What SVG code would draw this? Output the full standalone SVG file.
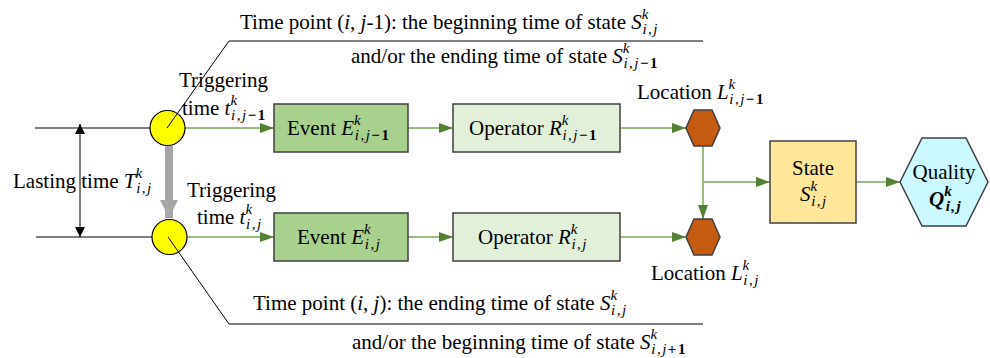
<svg xmlns="http://www.w3.org/2000/svg" width="990" height="358" viewBox="0 0 990 358">
<style>
.m{font-style:italic}
.sp{font-size:15px;font-style:italic}
.sb{font-size:15px;font-style:italic;letter-spacing:1.5px}
.n{font-style:normal;font-weight:bold}
.bx{stroke:#404040;stroke-width:1.5}
.g{stroke:#78a858;stroke-width:1.5;fill:none}
.k{stroke:#000;stroke-width:1;fill:none}
</style>
<defs>
<marker id="ga" viewBox="0 0 14 10" refX="14" refY="5" markerWidth="14" markerHeight="10" markerUnits="userSpaceOnUse" orient="auto"><path d="M0,0 L14,5 L0,10 Z" fill="#548235"/></marker>
<marker id="ka" viewBox="0 0 10 10" refX="10" refY="5" markerWidth="10" markerHeight="10" markerUnits="userSpaceOnUse" orient="auto"><path d="M0,0 L10,5 L0,10 Z" fill="#000"/></marker>
<marker id="gr" viewBox="0 0 18 18" refX="18" refY="9" markerWidth="18" markerHeight="18" markerUnits="userSpaceOnUse" orient="auto"><path d="M0,0 L18,9 L0,18 Z" fill="#a6a6a6"/></marker>
</defs>

<g id="connectors">
<line class="k" x1="35" y1="128" x2="167" y2="128"/>
<line class="k" x1="36" y1="237" x2="169" y2="237"/>
<line class="k" x1="80" y1="180" x2="80" y2="124" marker-end="url(#ka)"/>
<line class="k" x1="80" y1="180" x2="80" y2="237" marker-end="url(#ka)"/>
<line x1="169" y1="146" x2="169" y2="218" stroke="#a6a6a6" stroke-width="8" marker-end="url(#gr)"/>
<line class="g" x1="185" y1="128" x2="274" y2="128" marker-end="url(#ga)"/>
<line class="g" x1="187" y1="237" x2="274" y2="237" marker-end="url(#ga)"/>
<line class="g" x1="408" y1="128" x2="453" y2="128" marker-end="url(#ga)"/>
<line class="g" x1="408" y1="237" x2="453" y2="237" marker-end="url(#ga)"/>
<line class="g" x1="620" y1="128" x2="686" y2="128" marker-end="url(#ga)"/>
<line class="g" x1="620" y1="237" x2="686" y2="237" marker-end="url(#ga)"/>
<line class="g" x1="703" y1="146" x2="703" y2="219" marker-end="url(#ga)"/>
<line class="g" x1="703" y1="182" x2="770" y2="182" marker-end="url(#ga)"/>
<line class="g" x1="856" y1="182" x2="900" y2="182" marker-end="url(#ga)"/>
</g>

<g id="trigger-top">
<circle cx="167.5" cy="128" r="17.5" fill="#ffff00" stroke="#000" stroke-width="1.2"/>
<polyline class="k" points="167,128 229,41 703,41"/>
</g>
<g id="trigger-bottom">
<circle cx="169.5" cy="237" r="17.5" fill="#ffff00" stroke="#000" stroke-width="1.2"/>
<polyline class="k" points="168,237 229,324 703,324"/>
</g>

<g id="labels-time">
<text font-family="'Liberation Serif', serif" font-size="21" x="240" y="29">Time point (<tspan class="m">i</tspan>, <tspan class="m">j</tspan>-1): the beginning time of state <tspan class="m">S</tspan><tspan class="sp" dy="-10">k</tspan><tspan class="sb" dx="-6" dy="15">i,j</tspan></text>
<text font-family="'Liberation Serif', serif" font-size="21" x="351" y="63">and/or the ending time of state <tspan class="m">S</tspan><tspan class="sp" dy="-10">k</tspan><tspan class="sb" dx="-6" dy="15">i,j<tspan class="n">−1</tspan></tspan></text>
<text font-family="'Liberation Serif', serif" font-size="21" x="253" y="310">Time point (<tspan class="m">i</tspan>, <tspan class="m">j</tspan>): the ending time of state <tspan class="m">S</tspan><tspan class="sp" dy="-10">k</tspan><tspan class="sb" dx="-6" dy="15">i,j</tspan></text>
<text font-family="'Liberation Serif', serif" font-size="21" x="352" y="349">and/or the beginning time of state <tspan class="m">S</tspan><tspan class="sp" dy="-10">k</tspan><tspan class="sb" dx="-6" dy="15">i,j<tspan class="n">+1</tspan></tspan></text>
<text font-family="'Liberation Serif', serif" font-size="21" x="13" y="188">Lasting time <tspan class="m">T</tspan><tspan class="sp" dy="-10">k</tspan><tspan class="sb" dx="-6" dy="15">i,j</tspan></text>
<text font-family="'Liberation Serif', serif" font-size="21" x="179" y="87">Triggering</text>
<text font-family="'Liberation Serif', serif" font-size="21" x="182" y="115">time <tspan class="m">t</tspan><tspan class="sp" dy="-10">k</tspan><tspan class="sb" dx="-6" dy="15">i,j<tspan class="n">−1</tspan></tspan></text>
<text font-family="'Liberation Serif', serif" font-size="21" x="187" y="197">Triggering</text>
<text font-family="'Liberation Serif', serif" font-size="21" x="197" y="224">time <tspan class="m">t</tspan><tspan class="sp" dy="-10">k</tspan><tspan class="sb" dx="-6" dy="15">i,j</tspan></text>
</g>

<g id="event-top">
<rect class="bx" x="274" y="104" width="134" height="48" fill="#a9d18e"/>
<text font-family="'Liberation Serif', serif" font-size="21" x="287" y="135">Event <tspan class="m">E</tspan><tspan class="sp" dy="-10">k</tspan><tspan class="sb" dx="-6" dy="15">i,j<tspan class="n">−1</tspan></tspan></text>
</g>
<g id="operator-top">
<rect class="bx" x="453" y="104" width="167" height="48" fill="#e2f0d9"/>
<text font-family="'Liberation Serif', serif" font-size="21" x="469" y="135">Operator <tspan class="m">R</tspan><tspan class="sp" dy="-10">k</tspan><tspan class="sb" dx="-6" dy="15">i,j<tspan class="n">−1</tspan></tspan></text>
</g>
<g id="event-bottom">
<rect class="bx" x="274" y="213" width="134" height="48" fill="#a9d18e"/>
<text font-family="'Liberation Serif', serif" font-size="21" x="297" y="244">Event <tspan class="m">E</tspan><tspan class="sp" dy="-10">k</tspan><tspan class="sb" dx="-6" dy="15">i,j</tspan></text>
</g>
<g id="operator-bottom">
<rect class="bx" x="453" y="213" width="167" height="48" fill="#e2f0d9"/>
<text font-family="'Liberation Serif', serif" font-size="21" x="478" y="244">Operator <tspan class="m">R</tspan><tspan class="sp" dy="-10">k</tspan><tspan class="sb" dx="-6" dy="15">i,j</tspan></text>
</g>
<g id="location-top">
<polygon class="bx" points="694,110 712,110 720,128 712,146 694,146 686,128" fill="#c55a11" stroke="#333"/>
<text font-family="'Liberation Serif', serif" font-size="21" x="637" y="99">Location <tspan class="m">L</tspan><tspan class="sp" dy="-10">k</tspan><tspan class="sb" dx="-6" dy="15">i,j<tspan class="n">−1</tspan></tspan></text>
</g>
<g id="location-bottom">
<polygon class="bx" points="694,219 712,219 720,237 712,255 694,255 686,237" fill="#c55a11" stroke="#333"/>
<text font-family="'Liberation Serif', serif" font-size="21" x="651" y="280">Location <tspan class="m">L</tspan><tspan class="sp" dy="-10">k</tspan><tspan class="sb" dx="-6" dy="15">i,j</tspan></text>
</g>
<g id="state">
<rect class="bx" x="770" y="141" width="86" height="82" fill="#ffe699"/>
<text font-family="'Liberation Serif', serif" font-size="21" x="813" y="175" text-anchor="middle">State</text>
<text font-family="'Liberation Serif', serif" font-size="21" x="800" y="201"><tspan class="m">S</tspan><tspan class="sp" dy="-10">k</tspan><tspan class="sb" dx="-6" dy="15">i,j</tspan></text>
</g>
<g id="quality">
<polygon class="bx" points="900,182 922,138 966,138 988,182 966,226 922,226" fill="#ccf9ff"/>
<text font-family="'Liberation Serif', serif" font-size="21" x="944" y="179" text-anchor="middle">Quality</text>
<text font-family="'Liberation Serif', serif" font-size="21" x="929" y="206"><tspan class="m" font-weight="bold">Q</tspan><tspan class="sp" font-weight="bold" dy="-10">k</tspan><tspan class="sb" font-weight="bold" dx="-6" dy="15">i,j</tspan></text>
</g>
</svg>
